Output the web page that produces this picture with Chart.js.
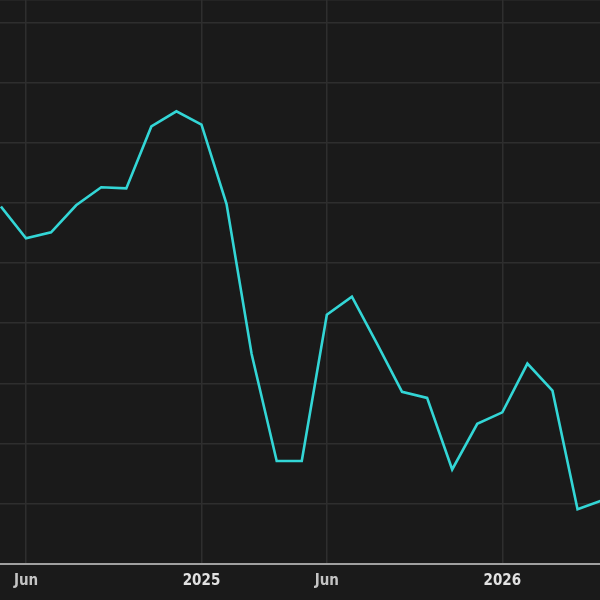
<!DOCTYPE html>
<html>
<head>
<meta charset="utf-8">
<script src="https://cdn.jsdelivr.net/npm/chart.js@4"></script>
<style>
  html, body { margin: 0; padding: 0; background: #1a1a1a; }
  #wrap { width: 600px; height: 600px; }
</style>
</head>
<body>
<div id="wrap"><canvas id="myChart" width="600" height="600"></canvas></div>
<script>
var months = ['2024-05','2024-06','2024-07','2024-08','2024-09','2024-10','2024-11','2024-12',
              '2025-01','2025-02','2025-03','2025-04','2025-05','2025-06','2025-07','2025-08',
              '2025-09','2025-10','2025-11','2025-12','2026-01','2026-02','2026-03','2026-04','2026-05']
var values = [5.94, 5.41, 5.51, 5.96, 6.26, 6.24, 7.27, 7.52,
              7.30, 5.98, 3.49, 1.71, 1.71, 4.14, 4.44, 3.66,
              2.86, 2.76, 1.57, 2.33, 2.52, 3.33, 2.88, 0.91, 1.06]
var tickMonths = ['2024-06', '2025-01', '2025-06', '2026-01']
var tickLabels = ['Jun', '2025', 'Jun', '2026']

var points = values.map((v, i) => ({ x: i, y: v }))
var tickIdx = tickMonths.map((m) => months.indexOf(m))

let ctx = document.getElementById('myChart').getContext('2d');
let myChart = new Chart(ctx, {
    type: 'line',
    data: {
        datasets: [{
            data: points,
            borderColor: '#33d6d6',
            borderWidth: 2.6,
            pointRadius: 0,
            tension: 0,
            fill: false
        }]
    },
    options: {
        responsive: false,
        animation: false,
        layout: { padding: { left: 0, right: 0, top: 0, bottom: 2 } },
        plugins: { legend: { display: false }, tooltip: { enabled: false } },
        scales: {
            x: {
                type: 'linear',
                min: -0.037,
                max: 23.896,
                afterBuildTicks: (scale) => {
                    scale.ticks = tickIdx.map((i) => ({ value: i }))
                },
                grid: { color: '#2e2e2e', lineWidth: 1.5, drawTicks: false },
                border: { display: true, color: '#a0a0a0', width: 2 },
                ticks: {
                    padding: 8,
                    maxRotation: 0,
                    autoSkip: false,
                    font: { family: "'DejaVu Sans Condensed', 'DejaVu Sans', sans-serif", size: 15, weight: 'bold', lineHeight: 1.2 },
                    color: (c) => (tickLabels[c.index] || '').length === 4 ? '#e2e2e2' : '#c4c4c4',
                    callback: (value, index) => tickLabels[index]
                }
            },
            y: {
                min: 0,
                max: 9.37,
                grid: { color: '#2e2e2e', lineWidth: 1.5, drawTicks: false },
                border: { display: false },
                ticks: { display: false, stepSize: 1 }
            }
        }
    }
});
</script>
</body>
</html>
